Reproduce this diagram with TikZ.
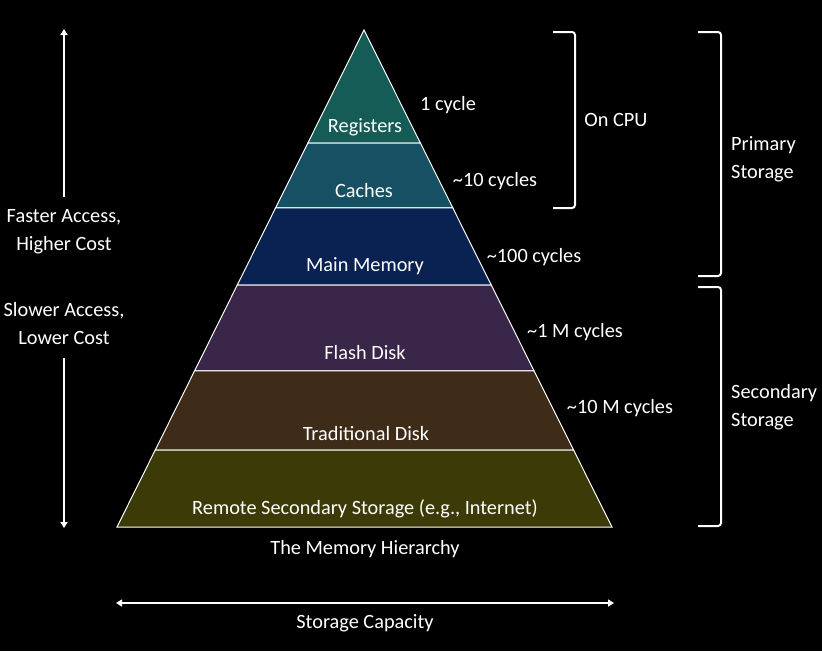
\documentclass[tikz,border=0pt]{standalone}
\usepackage{fontspec}
\setmainfont{Carlito}
\usetikzlibrary{calc,arrows.meta}
\definecolor{cReg}{RGB}{22,92,86}
\definecolor{cCache}{RGB}{22,80,98}
\definecolor{cMain}{RGB}{10,34,82}
\definecolor{cFlash}{RGB}{58,38,72}
\definecolor{cTrad}{RGB}{62,44,24}
\definecolor{cRemote}{RGB}{60,58,6}
\tikzset{
  lbl/.style={text=white,font=\fontsize{20.3}{28}\selectfont,inner sep=0pt,align=center},
  layer/.style={draw=white,line width=1pt,line join=miter},
  brk/.style={draw=white,line width=2pt,rounded corners=3pt},
  dblarrow/.style={draw=white,line width=2pt,-{Triangle[width=7pt,length=6pt]}},
}
\begin{document}
\begin{tikzpicture}[x=1pt,y=-1pt]
\fill[black] (0,0) rectangle (822,651);
\useasboundingbox (0,0) rectangle (822,651);
\coordinate (A) at (364,30);
\coordinate (BL) at (117,527);
\coordinate (BR) at (612,527);
\foreach \n/\t in {1/0.2274,2/0.3581,3/0.5131,4/0.6861,5/0.8451}{
  \coordinate (L\n) at ($(A)!\t!(BL)$);
  \coordinate (R\n) at ($(A)!\t!(BR)$);
}
\path[layer,fill=cReg] (A) -- (R1) -- (L1) -- cycle;
\path[layer,fill=cCache] (L1) -- (R1) -- (R2) -- (L2) -- cycle;
\path[layer,fill=cMain] (L2) -- (R2) -- (R3) -- (L3) -- cycle;
\path[layer,fill=cFlash] (L3) -- (R3) -- (R4) -- (L4) -- cycle;
\path[layer,fill=cTrad] (L4) -- (R4) -- (R5) -- (L5) -- cycle;
\path[layer,fill=cRemote] (L5) -- (R5) -- (BR) -- (BL) -- cycle;

\node[lbl] (reg) at (365,127) {Registers};
\node[lbl] (cache) at (364,191) {Caches};
\node[lbl] (main) at (365,266) {Main Memory};
\node[lbl] (flash) at (365,353) {Flash Disk};
\node[lbl] (trad) at (366,434) {Traditional Disk};
\node[lbl] (remote) at (365,509) {Remote Secondary Storage (e.g., Internet)};
\node[lbl] (title) at (365,549) {The Memory Hierarchy};

\node[lbl] (c1) at (448,105) {1 cycle};
\node[lbl] (c2) at (495,181) {\textasciitilde10 cycles};
\node[lbl] (c3) at (534,257) {\textasciitilde100 cycles};
\node[lbl] (c4) at (575,332) {\textasciitilde1 M cycles};
\node[lbl] (c5) at (620,408) {\textasciitilde10 M cycles};

% brackets
\draw[brk] (553,32) -- (575,32) -- (575,208) -- (553,208);
\node[lbl] (cpu) at (616,120) {On CPU};
\draw[brk] (698,32) -- (721,32) -- (721,276) -- (698,276);
\node[lbl,align=left,anchor=west] (prim) at (731,159) {Primary\\Storage};
\draw[brk] (698,287) -- (721,287) -- (721,526) -- (698,526);
\node[lbl,align=left,anchor=west] (sec) at (731,407) {Secondary\\Storage};

% left arrows
\node[lbl] (fast) at (64,232) {Faster Access,\\Higher Cost};
\node[lbl] (slow) at (64,324) {Slower Access,\\Lower Cost};
\coordinate (upend) at (64,29);
\coordinate (downend) at (64,528);
\draw[dblarrow] (64,197) -- (upend);
\draw[dblarrow] (64,358) -- (downend);

% capacity arrow
\coordinate (capL) at (116,603);
\coordinate (capR) at (614,603);
\draw[dblarrow,{Triangle[width=7pt,length=6pt]}-{Triangle[width=7pt,length=6pt]}] (capL) -- (capR);
\node[lbl] (cap) at (365,623) {Storage Capacity};
\end{tikzpicture}
\end{document}
